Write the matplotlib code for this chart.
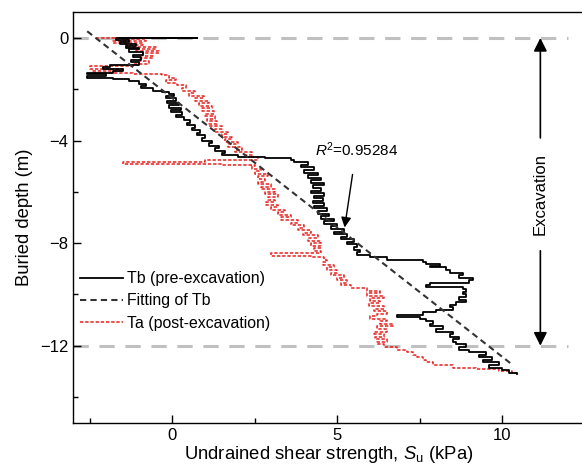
import matplotlib
matplotlib.use("Agg")
import matplotlib.pyplot as plt
from matplotlib.ticker import MultipleLocator

plt.rcParams["font.family"] = ["Liberation Sans", "DejaVu Sans"]
plt.rcParams["mathtext.fontset"] = "custom"
plt.rcParams["mathtext.rm"] = "Liberation Sans"
plt.rcParams["mathtext.it"] = "Liberation Sans:italic"

# Tb (pre-excavation): depth (m), Su (kPa)
tb_depth = [0.0, 0.0, -0.02, -0.1, -0.15, -0.22, -0.3, -0.38, -0.45, -0.55, -0.65, -0.75,
            -0.85, -0.95, -1.05, -1.12, -1.2, -1.28, -1.35, -1.42, -1.48, -1.55, -1.6, -1.68,
            -1.78, -1.88, -1.95, -2.05, -2.12, -2.2, -2.28, -2.35, -2.45, -2.55, -2.62, -2.72,
            -2.8, -2.9, -3.0, -3.1, -3.2, -3.3, -3.4, -3.5, -3.6, -3.7, -3.8, -3.9, -4.0,
            -4.1, -4.2, -4.3, -4.4, -4.5, -4.58, -4.65, -4.7, -4.75, -4.85, -4.95, -5.05,
            -5.15, -5.25, -5.35, -5.45, -5.55, -5.65, -5.75, -5.85, -5.95, -6.05, -6.15,
            -6.25, -6.35, -6.45, -6.55, -6.65, -6.75, -6.85, -6.95, -7.05, -7.15, -7.25,
            -7.35, -7.45, -7.55, -7.65, -7.75, -7.85, -7.95, -8.05, -8.15, -8.25, -8.35,
            -8.45, -8.55, -8.65, -8.72, -8.8, -8.88, -8.95, -9.05, -9.15, -9.25, -9.35,
            -9.45, -9.55, -9.62, -9.7, -9.8, -9.9, -10.0, -10.1, -10.2, -10.3, -10.4, -10.5,
            -10.6, -10.7, -10.8, -10.88, -10.95, -11.05, -11.15, -11.25, -11.35, -11.45,
            -11.55, -11.65, -11.75, -11.85, -11.95, -12.05, -12.15, -12.25, -12.35, -12.45,
            -12.55, -12.65, -12.75, -12.85, -12.95, -13.05, -13.12]
tb_su = [-1.6, 0.75, -1.2, -1.7, -1.3, -1.6, -1.1, -1.4, -1.0, -1.3, -0.9, -1.2,
         -0.95, -1.25, -1.0, -1.9, -2.1, -1.5, -1.8, -2.6, -2.0, -2.6, -1.8, -1.3,
         -1.0, -0.8, -0.95, -0.6, -0.3, -0.1, 0.05, -0.2, 0.1, -0.15, 0.2, -0.1,
         0.25, -0.05, 0.3, 0.1, 0.35, 0.55, 0.45, 0.7, 0.6, 0.85, 0.75, 1.0, 0.9,
         1.2, 1.1, 1.4, 1.3, 1.6, 1.5, 2.0, 2.8, 3.6, 3.7, 4.1, 3.9,
         4.3, 4.0, 4.4, 4.1, 4.5, 4.2, 4.6, 4.25, 4.5, 4.2, 4.6,
         4.3, 4.55, 4.25, 4.6, 4.3, 4.7, 4.4, 4.75, 4.5, 4.9, 4.6,
         5.0, 4.8, 5.2, 4.9, 5.3, 5.1, 5.5, 5.3, 5.6, 5.5, 5.7,
         5.6, 6.0, 6.5, 7.6, 7.7, 8.1, 7.8, 8.3, 8.4, 8.8, 8.7,
         9.1, 9.0, 7.8, 7.7, 8.8, 8.9, 8.8, 8.9, 8.7, 8.9, 8.6, 8.4,
         8.5, 8.0, 7.6, 6.8, 7.5, 7.7, 7.9, 7.8, 8.2, 8.0,
         8.5, 8.4, 8.7, 8.5, 8.6, 8.9, 8.7, 9.0, 9.5, 9.3,
         9.7, 9.4, 9.9, 9.6, 10.0, 10.2, 10.45]

# Ta (post-excavation)
ta_depth = [0.0, 0.0, -0.05, -0.12, -0.2, -0.28, -0.35, -0.42, -0.5, -0.6, -0.7, -0.8,
            -0.9, -1.0, -1.1, -1.2, -1.28, -1.35, -1.4, -1.45, -1.55, -1.65, -1.75, -1.85,
            -1.95, -2.05, -2.15, -2.25, -2.35, -2.45, -2.55, -2.65, -2.75, -2.85, -2.95,
            -3.05, -3.15, -3.25, -3.35, -3.45, -3.55, -3.65, -3.75, -3.85, -3.95, -4.05,
            -4.15, -4.25, -4.35, -4.45, -4.55, -4.65, -4.75, -4.85, -4.9, -4.95, -5.0,
            -5.1, -5.2, -5.3, -5.4, -5.5, -5.6, -5.7, -5.8, -5.9, -6.0, -6.1, -6.2, -6.3,
            -6.4, -6.5, -6.6, -6.7, -6.8, -6.9, -7.0, -7.1, -7.2, -7.3, -7.4, -7.5, -7.6,
            -7.7, -7.8, -7.9, -8.0, -8.1, -8.2, -8.3, -8.4, -8.5, -8.55, -8.65, -8.75,
            -8.85, -8.95, -9.05, -9.15, -9.25, -9.35, -9.45, -9.55, -9.65, -9.75, -9.85,
            -9.95, -10.05, -10.15, -10.25, -10.35, -10.45, -10.55, -10.65, -10.75, -10.85,
            -10.95, -11.05, -11.15, -11.25, -11.35, -11.45, -11.55, -11.65, -11.75, -11.85,
            -11.95, -12.05, -12.15, -12.25, -12.35, -12.45, -12.55, -12.65, -12.75, -12.85,
            -12.92, -13.0, -13.08, -13.12]
ta_su = [-2.3, -0.3, -1.5, -0.8, -1.8, -0.9, -1.4, -0.5, -1.1, -0.4, -0.9, -0.6,
         -1.0, -0.7, -1.2, -2.5, -1.5, -2.4, -1.2, -0.3, -0.1, 0.1, -0.2, 0.15,
         0.4, 0.3, 0.7, 0.5, 0.95, 0.7, 1.1, 0.8, 1.2, 0.9, 1.25,
         1.0, 1.3, 1.05, 1.35, 1.1, 1.5, 1.3, 1.7, 1.5, 1.8, 1.6,
         2.0, 1.7, 2.1, 1.9, 2.4, 2.2, 2.6, 1.0, -1.5, 1.5, 2.5,
         2.4, 2.7, 2.5, 2.9, 2.6, 2.8, 2.6, 3.0, 2.7, 3.1, 2.8, 3.2, 2.9,
         3.1, 2.85, 3.2, 3.0, 3.4, 3.2, 3.6, 3.3, 3.8, 3.6, 4.0, 3.8, 4.2,
         3.95, 4.4, 4.1, 4.5, 4.2, 4.5, 4.3, 4.5, 3.0, 4.2, 4.6, 4.7,
         4.55, 4.9, 4.7, 5.0, 4.8, 5.2, 5.0, 5.3, 5.1, 5.4, 5.9,
         6.3, 5.9, 6.4, 6.0, 6.3, 5.95, 6.4, 6.1, 6.5, 6.2,
         6.0, 6.5, 6.3, 6.7, 6.2, 6.5, 6.1, 6.4, 6.15, 6.5,
         6.2, 6.4, 6.8, 7.1, 7.3, 7.4, 7.6, 7.7, 7.9, 8.5,
         9.2, 9.9, 10.3, 10.45]

# linear fit of Tb (end points)
fit_su = [-2.58, 10.33]
fit_depth = [0.26, -12.77]

fig = plt.figure(figsize=(5.82, 4.72), dpi=100)
ax = fig.add_axes([0.126, 0.1045, 0.879, 0.8695])

ax.hlines([0, -12], -3, 12.0, colors="#c0c0c0", linestyles=(0, (5, 3.5)), lw=2.2, zorder=1)
ax.plot(tb_su, tb_depth, color="black", lw=1.3, drawstyle="steps-post",
        label="Tb (pre-excavation)", zorder=3)
ax.plot(fit_su, fit_depth, color="#333333", lw=1.5, ls=(0, (3, 2)), label="Fitting of Tb", zorder=4)
ax.plot(ta_su, ta_depth, color="#e8201c", lw=1.1, ls=(0, (2.2, 1.2)), drawstyle="steps-post",
        label="Ta (post-excavation)", zorder=2)

# excavation arrows
for y_from, y_to in [(-3.9, 0), (-8.3, -12)]:
    ax.annotate("", xy=(11.15, y_to), xytext=(11.15, y_from),
                arrowprops=dict(arrowstyle="-|>", color="black", lw=1.2, mutation_scale=20,
                                shrinkA=0, shrinkB=0))
ax.text(11.15, -6.1, "Excavation", rotation=90, ha="center", va="center", fontsize=12)

ax.annotate("$R$$^2$=0.95284", xy=(5.22, -7.39), xytext=(5.57, -4.37),
            ha="center", va="center", fontsize=11,
            arrowprops=dict(arrowstyle="-|>", color="black", lw=1.0, mutation_scale=15,
                            shrinkA=9, shrinkB=0))

ax.set_xlim(-3, 12.5)
ax.set_ylim(-15, 1)
ax.xaxis.set_major_locator(MultipleLocator(5))
ax.xaxis.set_minor_locator(MultipleLocator(2.5))
ax.yaxis.set_major_locator(MultipleLocator(4))
ax.yaxis.set_minor_locator(MultipleLocator(2))
ax.tick_params(which="both", direction="in", labelsize=12, width=1)
ax.tick_params(which="major", length=6)
ax.tick_params(which="minor", length=3.5)
ax.spines["right"].set_visible(False)
for s in ["left", "bottom", "top"]:
    ax.spines[s].set_linewidth(1.0)

ax.set_xlabel("Undrained shear strength, $S$$_\\mathrm{u}$ (kPa)", fontsize=13.3, labelpad=1)
ax.set_ylabel("Buried depth (m)", fontsize=13.3, labelpad=5)

ax.legend(loc="center left", bbox_to_anchor=(0.0, 0.2966), frameon=False, fontsize=11.4,
          handlelength=2.7, handletextpad=0.3, labelspacing=0.45, borderpad=0.42,
          borderaxespad=0)

fig.savefig("out.png", dpi=100)
